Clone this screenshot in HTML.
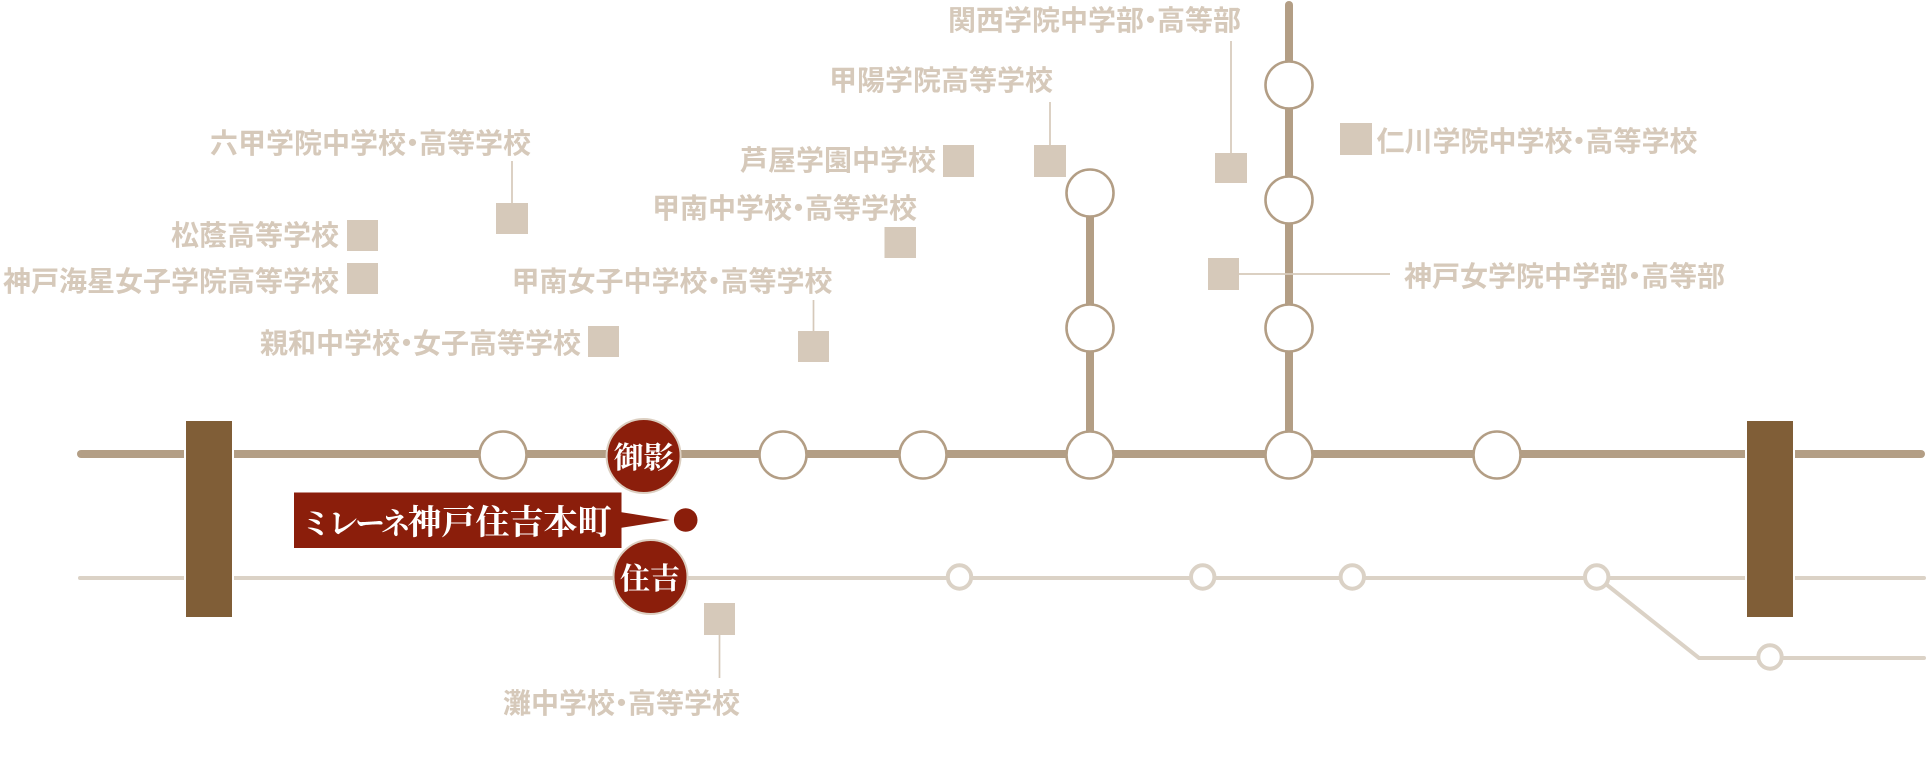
<!DOCTYPE html>
<html lang="ja">
<head>
<meta charset="utf-8">
<style>
  html, body { margin: 0; padding: 0; background: #ffffff; }
  body { width: 1926px; height: 764px; overflow: hidden; }
  svg { display: block; }
  .lbl { font-family: "Liberation Sans", "Noto Sans CJK JP", sans-serif; font-weight: 700; font-size: 28px; fill: #d6c9ba; }
  .srf { font-family: "Liberation Serif", "Noto Serif CJK SC", serif; font-weight: 700; fill: #ffffff; }
</style>
</head>
<body>
<svg width="1926" height="764" viewBox="0 0 1926 764" xmlns="http://www.w3.org/2000/svg">
  <!-- lower (light) line -->
  <g stroke="#dbd2c6" stroke-width="4" fill="none" stroke-linecap="round">
    <line x1="80" y1="578" x2="1924" y2="578"/>
    <polyline points="1597,577 1699,658 1924,658" stroke-linecap="butt" stroke-linejoin="miter"/>
    <line x1="1922" y1="658" x2="1924" y2="658"/>
  </g>

  <!-- main line -->
  <g stroke="#b39e85" stroke-width="8" stroke-linecap="round" fill="none">
    <line x1="81" y1="454" x2="1921" y2="454"/>
    <line x1="1090" y1="193" x2="1090" y2="454"/>
    <line x1="1289" y1="5" x2="1289" y2="454"/>
  </g>

  <!-- boundary boxes -->
  <rect x="184" y="419" width="50" height="200" fill="#ffffff"/>
  <rect x="186" y="421" width="46" height="196" fill="#805e37"/>
  <rect x="1745" y="419" width="50" height="200" fill="#ffffff"/>
  <rect x="1747" y="421" width="46" height="196" fill="#805e37"/>

  <!-- main stations -->
  <g fill="#ffffff" stroke="#b39e85" stroke-width="2.6">
    <circle cx="503" cy="455" r="23.5"/>
    <circle cx="783" cy="455" r="23.5"/>
    <circle cx="923" cy="455" r="23.5"/>
    <circle cx="1090" cy="455" r="23.5"/>
    <circle cx="1289" cy="455" r="23.5"/>
    <circle cx="1497" cy="455" r="23.5"/>
    <circle cx="1090" cy="193" r="23.5"/>
    <circle cx="1090" cy="328" r="23.5"/>
    <circle cx="1289" cy="85" r="23.5"/>
    <circle cx="1289" cy="200" r="23.5"/>
    <circle cx="1289" cy="328" r="23.5"/>
  </g>

  <!-- lower stations -->
  <g fill="#ffffff" stroke="#dbd2c6" stroke-width="4">
    <circle cx="959.5" cy="577" r="11.7"/>
    <circle cx="1202.7" cy="577" r="11.7"/>
    <circle cx="1352.3" cy="577" r="11.7"/>
    <circle cx="1596.7" cy="577" r="11.7"/>
    <circle cx="1770" cy="657" r="11.7"/>
  </g>

  <!-- school squares & connectors -->
  <g fill="#d6c9ba">
    <rect x="1215" y="153" width="32" height="30"/>
    <rect x="1034" y="145" width="32" height="32"/>
    <rect x="496" y="203" width="32" height="31"/>
    <rect x="943" y="145" width="31" height="32"/>
    <rect x="1340" y="123" width="32" height="32"/>
    <rect x="884.5" y="227" width="31.5" height="31"/>
    <rect x="347" y="220" width="31" height="31"/>
    <rect x="347" y="263" width="31" height="31"/>
    <rect x="1208" y="258" width="31" height="32"/>
    <rect x="798" y="331" width="31" height="31"/>
    <rect x="588" y="326" width="31" height="31"/>
    <rect x="704" y="603" width="31" height="32"/>
  </g>
  <g stroke="#d6c9ba" stroke-width="1.7" fill="none">
    <line x1="1231" y1="41" x2="1231" y2="153"/>
    <line x1="1050" y1="102" x2="1050" y2="145"/>
    <line x1="512" y1="161" x2="512" y2="203"/>
    <line x1="1239" y1="274" x2="1390" y2="274"/>
    <line x1="813.5" y1="300" x2="813.5" y2="331"/>
    <line x1="719.5" y1="635" x2="719.5" y2="678"/>
  </g>

  <!-- school labels -->
  <text class="lbl" x="948" y="30">関西学院中学部<tspan dx="-7.5">・</tspan><tspan dx="-7.5">高等部</tspan></text>
  <text class="lbl" x="829" y="90">甲陽学院高等学校</text>
  <text class="lbl" x="210" y="153">六甲学院中学校<tspan dx="-7.5">・</tspan><tspan dx="-7.5">高等学校</tspan></text>
  <text class="lbl" x="740" y="170">芦屋学園中学校</text>
  <text class="lbl" x="1376.5" y="151">仁川学院中学校<tspan dx="-7.5">・</tspan><tspan dx="-7.5">高等学校</tspan></text>
  <text class="lbl" x="652" y="218">甲南中学校<tspan dx="-7.5">・</tspan><tspan dx="-7.5">高等学校</tspan></text>
  <text class="lbl" x="339" y="245" text-anchor="end">松蔭高等学校</text>
  <text class="lbl" x="339" y="291" text-anchor="end">神戸海星女子学院高等学校</text>
  <text class="lbl" x="1404" y="286">神戸女学院中学部<tspan dx="-7.5">・</tspan><tspan dx="-7.5">高等部</tspan></text>
  <text class="lbl" x="511.5" y="291">甲南女子中学校<tspan dx="-7.5">・</tspan><tspan dx="-7.5">高等学校</tspan></text>
  <text class="lbl" x="260" y="353">親和中学校<tspan dx="-7.5">・</tspan><tspan dx="-7.5">女子高等学校</tspan></text>
  <text class="lbl" x="503" y="713">灘中学校<tspan dx="-7.5">・</tspan><tspan dx="-7.5">高等学校</tspan></text>

  <!-- red stations -->
  <circle cx="643.6" cy="456" r="37" fill="#8b1e0b" stroke="#dccfc1" stroke-width="2"/>
  <circle cx="650.5" cy="577" r="37" fill="#8b1e0b" stroke="#dccfc1" stroke-width="2"/>
  <text class="srf" x="643.6" y="468" font-size="30" text-anchor="middle">御影</text>
  <text class="srf" x="650" y="589" font-size="30" text-anchor="middle">住吉</text>

  <!-- property label -->
  <rect x="294" y="492.5" width="327.5" height="55.5" fill="#8b1e0b"/>
  <polygon points="620,512 670,520 620,528" fill="#8b1e0b"/>
  <circle cx="685.7" cy="520" r="11.8" fill="#8b1e0b"/>
  <text class="srf" x="301" y="534"><tspan font-size="30" letter-spacing="-3">ミレーネ</tspan><tspan font-size="34">神戸住吉本町</tspan></text>
</svg>
</body>
</html>
